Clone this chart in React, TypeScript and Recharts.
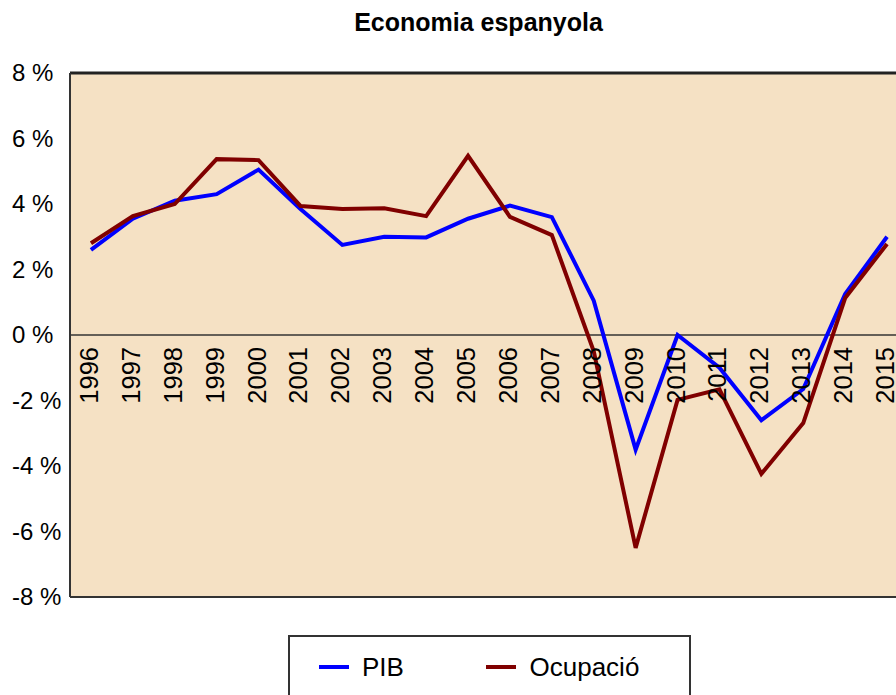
import React from 'react';
import { LineChart, Line, XAxis, YAxis, CartesianGrid, ReferenceLine, Legend } from 'recharts';

const years = ['1996','1997','1998','1999','2000','2001','2002','2003','2004','2005','2006','2007','2008','2009','2010','2011','2012','2013','2014','2015'];
const pib = [2.6, 3.55, 4.1, 4.3, 5.05, 3.85, 2.75, 3.0, 2.98, 3.55, 3.95, 3.6, 1.05, -3.5, 0.0, -1.0, -2.6, -1.65, 1.25, 3.0];
const ocupacio = [2.8, 3.63, 4.0, 5.37, 5.34, 3.94, 3.85, 3.87, 3.63, 5.47, 3.61, 3.05, -0.5, -6.5, -1.98, -1.66, -4.24, -2.69, 1.13, 2.78];
const yTicks = [-8, -6, -4, -2, 0, 2, 4, 6, 8];
const seriesOrder = ['PIB', 'Ocupació'];
const Y_MIN = -8;
const Y_MAX = 8;

const data = years.map((y, i) => ({ year: y, PIB: pib[i], 'Ocupació': ocupacio[i] }));

const FONT = '"Liberation Sans", Arial, Helvetica, sans-serif';
const CHART_W = 930;
const CHART_H = 687;
const MARGIN = { top: 65, right: 30, bottom: 96, left: 0 };
const XAXIS_H = 2;
const PLOT_W = CHART_W - MARGIN.left - MARGIN.right - 62;
const HALF_BAND = PLOT_W / years.length / 2;
const PLOT_H = CHART_H - MARGIN.top - MARGIN.bottom - XAXIS_H;
const ZERO_FRAC = (0 - Y_MIN) / (Y_MAX - Y_MIN);

const YTick = (props: any) => {
  const { x, y, payload } = props;
  return (
    <text x={x} y={y} dy="0.35em" textAnchor="start" fontSize={24} fontFamily={FONT} fill="#000">
      {`${payload.value} %`}
    </text>
  );
};

const XTick = (props: any) => {
  const { x, y, payload } = props;
  const zy = y - PLOT_H * ZERO_FRAC;
  return (
    <text
      transform={`translate(${x + 7},${zy + 12}) rotate(-90)`}
      textAnchor="end"
      fontSize={25.5}
      fontFamily={FONT}
      fill="#000"
    >
      {payload.value}
    </text>
  );
};

const LegendBox = (props: any) => {
  const payload = props.payload || [];
  const items = seriesOrder
    .map((name) => payload.find((p: any) => p.value === name))
    .filter(Boolean);
  const lineLefts = [29, 196];
  const textLefts = [72.5, 240];
  return (
    <div
      style={{
        position: 'relative',
        width: 403,
        height: 80,
        border: '2px solid #333',
        boxSizing: 'border-box',
        background: '#fff',
        fontFamily: FONT,
      }}
    >
      {items.map((p: any, i: number) => (
        <React.Fragment key={p.value}>
          <div
            style={{
              position: 'absolute',
              left: lineLefts[i],
              top: 28,
              width: 30,
              height: 4,
              background: p.color,
            }}
          />
          <div
            style={{
              position: 'absolute',
              left: textLefts[i],
              top: 17,
              fontSize: 26,
              lineHeight: '26px',
              color: '#000',
              whiteSpace: 'nowrap',
            }}
          >
            {p.value}
          </div>
        </React.Fragment>
      ))}
    </div>
  );
};

export default function App() {
  return (
    <div style={{ position: 'fixed', left: 0, top: 0, width: 896, height: 695, overflow: 'hidden', background: '#fff' }}>
      <div style={{ position: 'absolute', left: 8, top: 8, width: CHART_W, height: CHART_H }}>
        <div
          style={{
            position: 'absolute',
            left: 0,
            top: 2,
            width: 941,
            textAlign: 'center',
            fontFamily: FONT,
            fontWeight: 'bold',
            fontSize: 25,
            lineHeight: '25px',
            color: '#000',
            zIndex: 2,
          }}
        >
          Economia espanyola
        </div>
        <LineChart width={CHART_W} height={CHART_H} data={data} margin={MARGIN}>
          <CartesianGrid horizontal={false} vertical={false} fill="#F5E1C4" stroke="none" />
          <XAxis
            dataKey="year"
            height={XAXIS_H}
            padding={{ left: HALF_BAND, right: HALF_BAND }}
            tickSize={0}
            tickMargin={0}
            tickLine={false}
            axisLine={{ stroke: '#333', strokeWidth: 2 }}
            tick={<XTick />}
            interval={0}
          />
          <YAxis
            domain={[Y_MIN, Y_MAX]}
            ticks={yTicks}
            width={62}
            tickSize={0}
            tickMargin={58}
            tickLine={false}
            axisLine={{ stroke: '#333', strokeWidth: 2 }}
            tick={<YTick />}
            allowDataOverflow
          />
          <ReferenceLine y={Y_MAX} stroke="#222" strokeWidth={3} />
          <ReferenceLine y={0} stroke="#333" strokeWidth={1.5} />
          <Line type="linear" dataKey="PIB" stroke="#0000FF" strokeWidth={4} dot={false} isAnimationActive={false} />
          <Line type="linear" dataKey="Ocupació" stroke="#800000" strokeWidth={4} dot={false} isAnimationActive={false} />
          <Legend
            layout="horizontal"
            verticalAlign="middle"
            align="center"
            content={<LegendBox />}
            wrapperStyle={{ left: 279.5, top: 627, width: 403, height: 80 }}
          />
        </LineChart>
      </div>
    </div>
  );
}
